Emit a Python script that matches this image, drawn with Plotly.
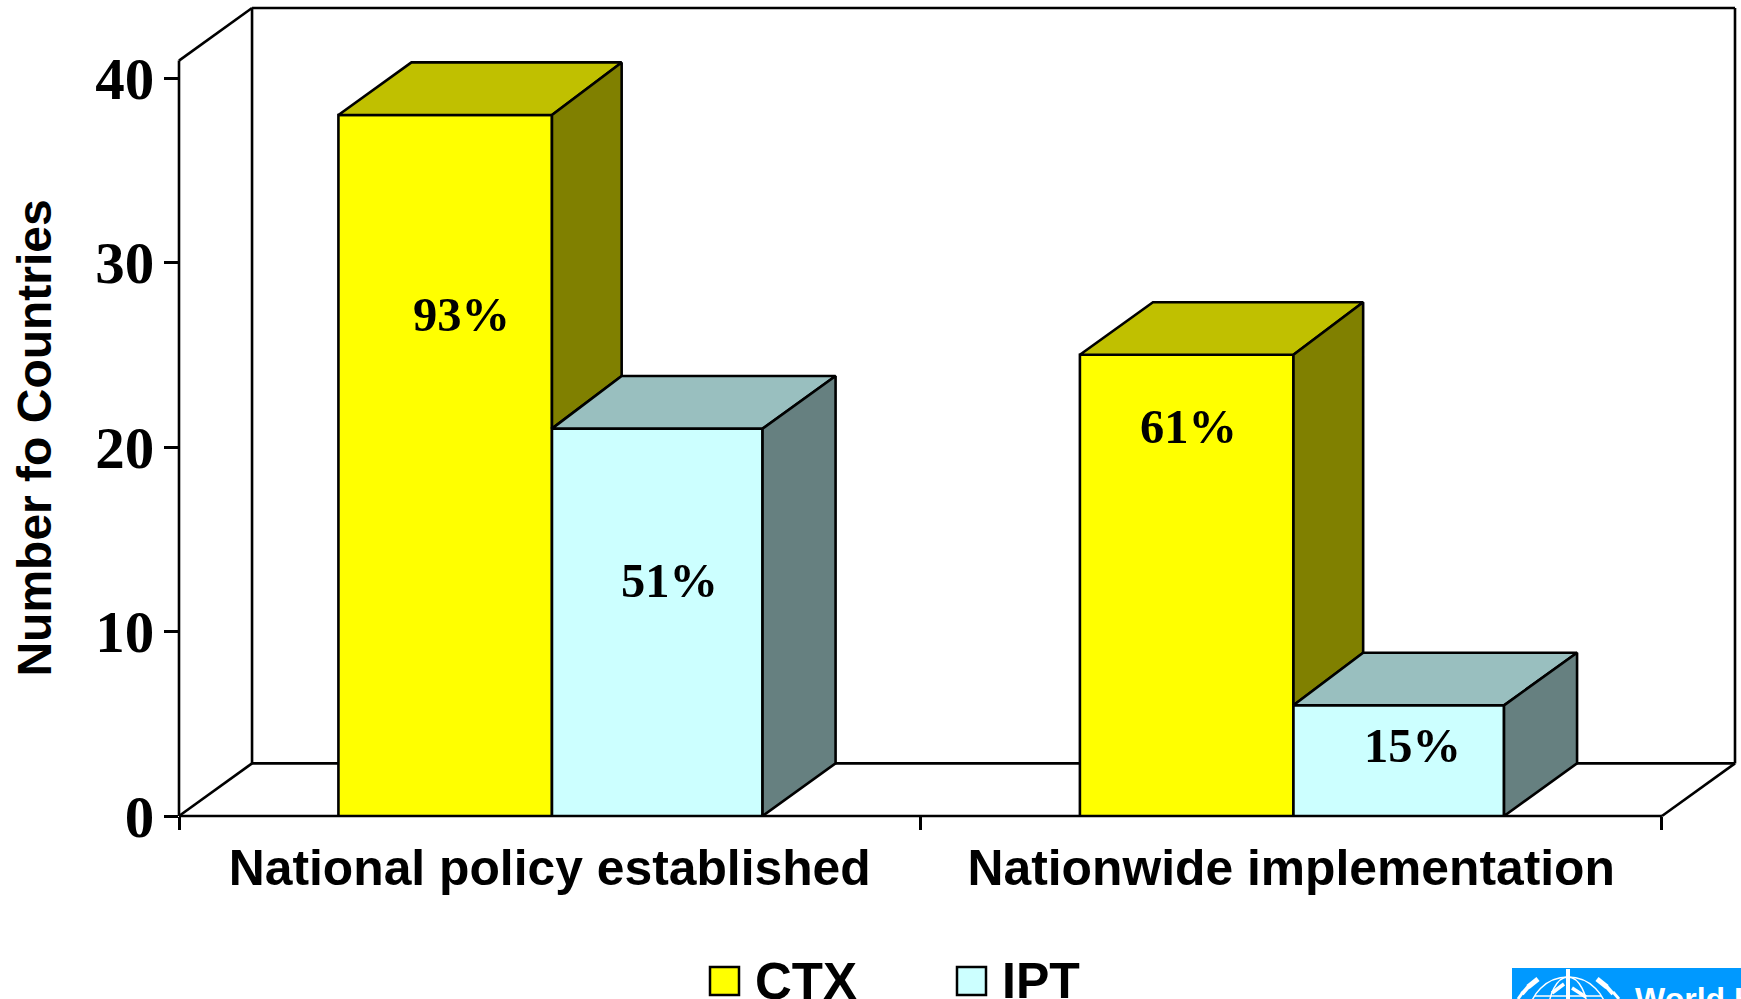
import plotly.graph_objects as go

# ---- data ----
categories = ["National policy established", "Nationwide implementation"]
group_centers = [0.5, 1.5]
ctx_values = [38, 25]
ipt_values = [21, 6]
ctx_labels = ["93%", "61%"]
ipt_labels = ["51%", "15%"]
y_ticks = [0, 10, 20, 30, 40]

W, H = 1741, 999
L, R, T, B = 179, 1735, 8, 816
DX, DY = 0.0985, 2.85
DX_MID = DX - 0.0045
WALL = 40.95
XMAX, YMAX = 2 + DX, WALL + DY
CTX_W, IPT_W, MID = 0.288, 0.284, 0.003
SERIF = "Liberation Serif"
SANS = "Liberation Sans"
EDGE = 2.6


def line(x0, y0, x1, y1):
    return dict(type="line", xref="paper", yref="paper", x0=x0 / XMAX, y0=y0 / YMAX, x1=x1 / XMAX, y1=y1 / YMAX,
                line=dict(color="black", width=EDGE), layer="below")


fig = go.Figure()

fig.add_bar(x=group_centers, y=ctx_values, width=CTX_W, offset=MID - CTX_W, name="CTX", cliponaxis=False,
            marker=dict(color="#FFFF00", line=dict(color="black", width=EDGE)), hoverinfo="skip")
fig.add_bar(x=group_centers, y=ipt_values, width=IPT_W, offset=MID, name="IPT", cliponaxis=False,
            marker=dict(color="#CCFFFF", line=dict(color="black", width=EDGE)), hoverinfo="skip")


def face(xs, ys, color):
    fig.add_scatter(x=xs + xs[:1], y=ys + ys[:1], mode="lines", fill="toself", fillcolor=color,
                    line=dict(color="black", width=EDGE), cliponaxis=False, showlegend=False, hoverinfo="skip")


for center, a, b in zip(group_centers, ctx_values, ipt_values):
    c = center + MID
    face([c - CTX_W, c - CTX_W + DX, c + DX_MID, c], [a, a + DY, a + DY, a], "#C0C000")
    face([c, c + DX_MID, c + DX_MID, c], [a, a + DY, b + DY, b], "#808000")
    face([c, c + DX_MID, c + IPT_W + DX, c + IPT_W], [b, b + DY, b + DY, b], "#99BFBF")
    face([c + IPT_W, c + IPT_W + DX, c + IPT_W + DX, c + IPT_W], [b, b + DY, DY, 0], "#668080")

shapes = [
    line(0, 0, 0, WALL),
    line(0, WALL, DX, WALL + DY),
    line(DX, WALL + DY, 2 + DX, WALL + DY),
    line(DX, DY, DX, WALL + DY),
    line(2 + DX, DY, 2 + DX, WALL + DY),
    line(DX, DY, 2 + DX, DY),
    line(0, 0, DX, DY),
    line(2, 0, 2 + DX, DY),
    line(0, 0, 2, 0),
]


def pp(x, y):
    """page pixel -> paper fraction of the plot area"""
    return (x - L) / (R - L), (B - y) / (B - T)


def rect(x0, y0, x1, y1, fill, lc=None, lw=0):
    a, b = pp(x0, y0)
    c, d = pp(x1, y1)
    return dict(type="rect", xref="paper", yref="paper", x0=a, y0=b, x1=c, y1=d, fillcolor=fill,
                line=dict(color=lc or fill, width=lw), layer="above")


# legend swatches
shapes.append(rect(710, 967, 739, 995, "#FFFF00", "black", 2.5))
shapes.append(rect(957, 967, 986, 995, "#CCFFFF", "black", 2.5))
# logo block
shapes.append(rect(1512, 968, 1741, 1005, "#0099FF"))


def wline(x0, y0, x1, y1, w=1.5):
    a, b = pp(x0, y0)
    c, d = pp(x1, y1)
    return dict(type="line", xref="paper", yref="paper", x0=a, y0=b, x1=c, y1=d,
                line=dict(color="white", width=w), layer="above")


def wcircle(x0, y0, x1, y1):
    a, b = pp(x0, y0)
    c, d = pp(x1, y1)
    return dict(type="circle", xref="paper", yref="paper", x0=a, y0=b, x1=c, y1=d,
                line=dict(color="white", width=1.5), layer="above")


shapes += [wcircle(1529, 977, 1607, 1055), wcircle(1548, 977, 1588, 1055),
           wline(1535, 996, 1601, 996),
           wline(1568, 969, 1568, 999, 4), wline(1552, 993, 1564, 984, 3.5), wline(1572, 988, 1586, 997, 3.5),
           wline(1538, 979, 1528, 987, 5), wline(1529, 986, 1522, 994, 4), wline(1523, 992, 1518, 999, 3),
           wline(1597, 979, 1607, 987, 5), wline(1606, 986, 1613, 994, 4), wline(1613, 992, 1619, 999, 3)]


def page_text(x, y, text, size, color="black", anchor="left", angle=0):
    a, b = pp(x, y)
    return dict(x=a, y=b, text=f"<b>{text}</b>", xref="paper", yref="paper", showarrow=False,
                xanchor=anchor, yanchor="middle", textangle=angle,
                font=dict(family=SANS, size=size, color=color))


ann = []
for i, (xp, yp) in enumerate([(0.381, 27.2), (1.362, 21.12)]):
    ann.append(dict(x=xp, y=yp, text=f"<b>{ctx_labels[i]}</b>", xref="x", yref="y", showarrow=False,
                    font=dict(family=SERIF, size=48.5, color="black")))
for i, (xp, yp) in enumerate([(0.661, 12.76), (1.664, 3.8)]):
    ann.append(dict(x=xp, y=yp, text=f"<b>{ipt_labels[i]}</b>", xref="x", yref="y", showarrow=False,
                    font=dict(family=SERIF, size=48.5, color="black")))
ann.append(page_text(752.5, 981, "CTX", 51))
ann.append(page_text(1000, 981, "IPT", 50))
ann.append(page_text(1633, 999, "World Health Organization", 32, color="white"))
ann.append(page_text(35, 438.6, "Number fo Countries", 48, anchor="center", angle=-90))

fig.update_layout(
    width=W, height=H, margin=dict(l=L, r=W - R, t=T, b=H - B, pad=0, autoexpand=False),
    paper_bgcolor="white", plot_bgcolor="rgba(0,0,0,0)", showlegend=False,
    barmode="overlay", shapes=shapes, annotations=ann,
    xaxis=dict(range=[0, XMAX], tickmode="array", tickvals=group_centers, ticktext=[f"<b>{c}</b>" for c in categories],
               ticks="", showgrid=False, zeroline=False, showline=False, ticklabelstandoff=18,
               tickfont=dict(family=SANS, size=49.8, color="black"),
               minor=dict(tickmode="linear", tick0=0, dtick=1, ticks="outside", ticklen=13, tickwidth=EDGE,
                          tickcolor="black", showgrid=False)),
    yaxis=dict(range=[0, YMAX], tickmode="array", tickvals=y_ticks, ticktext=[f"<b>{v}</b>" for v in y_ticks],
               ticks="outside", ticklen=14, tickwidth=EDGE, tickcolor="black", showgrid=False, zeroline=False,
               showline=False, ticklabelstandoff=-2,
               tickfont=dict(family=SERIF, size=59, color="black")),
)

fig.write_html("out.html", config={"displayModeBar": False},
               post_script="document.body.style.margin='0';document.body.style.overflow='hidden';")
